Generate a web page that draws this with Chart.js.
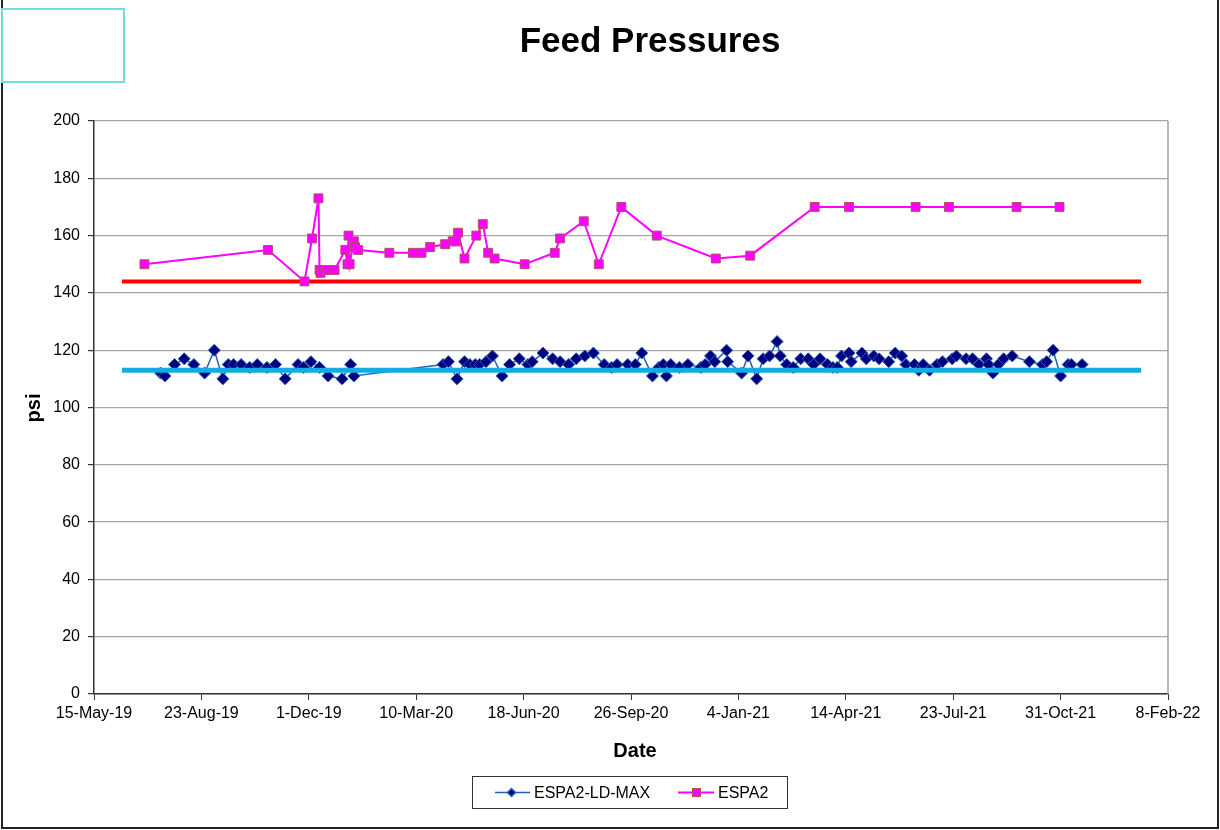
<!DOCTYPE html>
<html>
<head>
<meta charset="utf-8">
<title>Feed Pressures</title>
<script src="https://cdn.jsdelivr.net/npm/chart.js@4.4.0/dist/chart.umd.min.js"></script>
<style>
    html, body { margin: 0; padding: 0; background: #fff; }
    #wrap { position: relative; width: 1220px; height: 830px; }
</style>
</head>
<body>
<div id="wrap"><canvas id="feedChart" width="1220" height="830"></canvas></div>
<script>
// dates are Excel day serials (43600 = 15-May-19)
const chartTitle = 'Feed Pressures';
const xTitle = 'Date';
const yTitle = 'psi';
const seriesNames = ['ESPA2-LD-MAX', 'ESPA2'];
const xTickLabels = ['15-May-19', '23-Aug-19', '1-Dec-19', '10-Mar-20', '18-Jun-20', '26-Sep-20',
    '4-Jan-21', '14-Apr-21', '23-Jul-21', '31-Oct-21', '8-Feb-22'];

const ldMaxDates = [43662, 43666, 43675, 43684, 43693, 43703, 43712, 43720, 43725, 43730,
    43737, 43745, 43752, 43761, 43769, 43778, 43790, 43795, 43802, 43810,
    43818, 43831, 43839, 43842, 43925, 43930, 43938, 43945, 43950, 43955,
    43959, 43965, 43971, 43980, 43987, 43996, 44004, 44008, 44018, 44027,
    44034, 44042, 44049, 44057, 44065, 44075, 44082, 44087, 44097, 44104,
    44110, 44120, 44126, 44130, 44133, 44137, 44145, 44153, 44165, 44169,
    44174, 44178, 44189, 44190, 44203, 44209, 44217, 44223, 44229, 44236,
    44239, 44245, 44251, 44258, 44265, 44270, 44276, 44283, 44288, 44292,
    44296, 44303, 44305, 44315, 44319, 44326, 44331, 44340, 44346, 44352,
    44356, 44364, 44368, 44372, 44378, 44385, 44390, 44399, 44403, 44412,
    44418, 44424, 44431, 44433, 44437, 44442, 44447, 44455, 44471, 44483,
    44487, 44493, 44500, 44507, 44510, 44520];
const ldMaxPsi = [112, 111, 115, 117, 115, 112, 120, 110, 115, 115,
    115, 114, 115, 114, 115, 110, 115, 114, 116, 114,
    111, 110, 115, 111, 115, 116, 110, 116, 115, 115,
    115, 116, 118, 111, 115, 117, 115, 116, 119, 117,
    116, 115, 117, 118, 119, 115, 114, 115, 115, 115,
    119, 111, 114, 115, 111, 115, 114, 115, 114, 115,
    118, 116, 120, 116, 112, 118, 110, 117, 118, 123,
    118, 115, 114, 117, 117, 115, 117, 115, 114, 114,
    118, 119, 116, 119, 117, 118, 117, 116, 119, 118,
    115, 115, 113, 115, 113, 115, 116, 117, 118, 117,
    117, 115, 117, 115, 112, 115, 117, 118, 116, 115,
    116, 120, 111, 115, 115, 115];

const espa2Dates = [43647, 43762, 43796, 43803, 43809, 43810, 43811, 43817, 43824, 43834,
    43836, 43837, 43838, 43842, 43843, 43846, 43875, 43897, 43905, 43913,
    43927, 43934, 43937, 43939, 43945, 43956, 43962, 43967, 43973, 44001,
    44029, 44034, 44056, 44070, 44091, 44124, 44179, 44211, 44271, 44303,
    44365, 44396, 44459, 44499];
const espa2Psi = [150, 155, 144, 159, 173, 148, 147, 148, 148, 155,
    150, 160, 150, 158, 156, 155, 154, 154, 154, 156,
    157, 158, 158, 161, 152, 160, 164, 154, 152, 150,
    154, 159, 165, 150, 170, 160, 152, 153, 170, 170,
    170, 170, 170, 170];

// the two flat reference lines
const limitDates = [43626, 44575];
const redLimitPsi = [144, 144];
const blueLimitPsi = [113, 113];

const toPoints = (xs, ys) => xs.map((x, i) => ({ x: x, y: ys[i] }));
const fontFamily = "'Liberation Sans', Arial, sans-serif";
Chart.defaults.font.family = fontFamily;

const blueLine = '#1f62b4';
const navy = '#000080';
const magenta = '#ff00ff';

const decorations = {
    id: 'decorations',
    beforeDraw(chart) {
        const ctx = chart.ctx;
        ctx.save();
        ctx.fillStyle = '#fff';
        ctx.fillRect(0, 0, chart.width, chart.height);
        ctx.restore();
    },
    afterDraw(chart) {
        const ctx = chart.ctx;
        const a = chart.chartArea;
        ctx.save();
        // right edge of plot area
        ctx.strokeStyle = '#a0a0a0';
        ctx.lineWidth = 1.5;
        ctx.beginPath();
        ctx.moveTo(a.right, a.top);
        ctx.lineTo(a.right, a.bottom);
        ctx.stroke();

        // outer frame
        ctx.strokeStyle = '#222';
        ctx.lineWidth = 2;
        ctx.beginPath();
        ctx.moveTo(2, 0);
        ctx.lineTo(2, 828);
        ctx.lineTo(1218, 828);
        ctx.lineTo(1218, 0);
        ctx.stroke();

        // empty box top left
        ctx.strokeStyle = '#74dada';
        ctx.lineWidth = 2;
        ctx.strokeRect(2, 9, 122, 73);

        // titles
        ctx.fillStyle = '#000';
        ctx.textAlign = 'center';
        ctx.textBaseline = 'alphabetic';
        ctx.font = 'bold 35px ' + fontFamily;
        ctx.fillText(chartTitle, 650, 52);
        ctx.font = 'bold 20px ' + fontFamily;
        ctx.fillText(xTitle, 635, 757);
        ctx.save();
        ctx.translate(34, 408);
        ctx.rotate(-Math.PI / 2);
        ctx.textBaseline = 'middle';
        ctx.fillText(yTitle, 0, 0);
        ctx.restore();

        // legend
        ctx.strokeStyle = '#333';
        ctx.lineWidth = 1;
        ctx.strokeRect(472.5, 776.5, 315, 32);
        const ly = 792.5;
        ctx.lineWidth = 1.5;
        ctx.strokeStyle = blueLine;
        ctx.beginPath();
        ctx.moveTo(495, ly);
        ctx.lineTo(530, ly);
        ctx.stroke();
        ctx.fillStyle = navy;
        ctx.beginPath();
        ctx.moveTo(511.5 - 4, ly);
        ctx.lineTo(511.5, ly - 4);
        ctx.lineTo(511.5 + 4, ly);
        ctx.lineTo(511.5, ly + 4);
        ctx.closePath();
        ctx.fill();
        ctx.stroke();

        ctx.strokeStyle = magenta;
        ctx.lineWidth = 2;
        ctx.beginPath();
        ctx.moveTo(678, ly);
        ctx.lineTo(714, ly);
        ctx.stroke();
        ctx.fillStyle = magenta;
        ctx.fillRect(693, ly - 3.5, 7, 7);
        ctx.strokeStyle = '#b0506a';
        ctx.lineWidth = 1;
        ctx.strokeRect(692.5, ly - 4, 8, 8);

        ctx.fillStyle = '#000';
        ctx.textAlign = 'left';
        ctx.textBaseline = 'middle';
        ctx.font = '16px ' + fontFamily;
        ctx.fillText(seriesNames[0], 534, ly + 1);
        ctx.fillText(seriesNames[1], 718, ly + 1);
        ctx.restore();
    }
};

const chart = new Chart(document.getElementById('feedChart'), {
    type: 'line',
    data: {
        datasets: [{
            label: seriesNames[1],
            data: toPoints(espa2Dates, espa2Psi),
            borderColor: magenta,
            borderWidth: 2,
            pointStyle: 'rect',
            pointRadius: 6.3,
            pointBackgroundColor: magenta,
            pointBorderColor: '#b0506a',
            pointBorderWidth: 1,
            tension: 0,
            order: 1
        }, {
            label: 'blue limit',
            data: toPoints(limitDates, blueLimitPsi),
            borderColor: '#14aae6',
            borderWidth: 5,
            pointRadius: 0,
            order: 2
        }, {
            label: seriesNames[0],
            data: toPoints(ldMaxDates, ldMaxPsi),
            borderColor: blueLine,
            borderWidth: 1.5,
            pointStyle: 'rectRot',
            pointRadius: 6,
            pointBackgroundColor: navy,
            pointBorderColor: '#2a62b0',
            pointBorderWidth: 1,
            tension: 0,
            order: 3
        }, {
            label: 'red limit',
            data: toPoints(limitDates, redLimitPsi),
            borderColor: '#ff0000',
            borderWidth: 4,
            pointRadius: 0,
            order: 4
        }]
    },
    options: {
        responsive: false,
        animation: false,
        events: [],
        layout: { padding: { left: 0, top: 121, right: 52, bottom: 0 } },
        plugins: {
            legend: { display: false },
            title: { display: false },
            tooltip: { enabled: false }
        },
        scales: {
            x: {
                type: 'linear',
                min: 43600,
                max: 44600,
                afterFit: (s) => { s.height = 136; },
                ticks: {
                    stepSize: 100,
                    autoSkip: false,
                    maxRotation: 0,
                    padding: 4,
                    color: '#000',
                    font: { size: 16 },
                    callback: (v, i) => xTickLabels[i]
                },
                grid: { drawOnChartArea: false, drawTicks: true, tickLength: 6, tickColor: '#333' },
                border: { color: '#333', width: 1.5 }
            },
            y: {
                min: 0,
                max: 200,
                afterFit: (s) => { s.width = 94; },
                ticks: { stepSize: 20, padding: 8, color: '#000', font: { size: 16 } },
                grid: { color: '#a6a6a6', lineWidth: 1.2, tickLength: 6, tickColor: '#333' },
                border: { color: '#333', width: 1.5 }
            }
        }
    },
    plugins: [decorations]
});
</script>
</body>
</html>
